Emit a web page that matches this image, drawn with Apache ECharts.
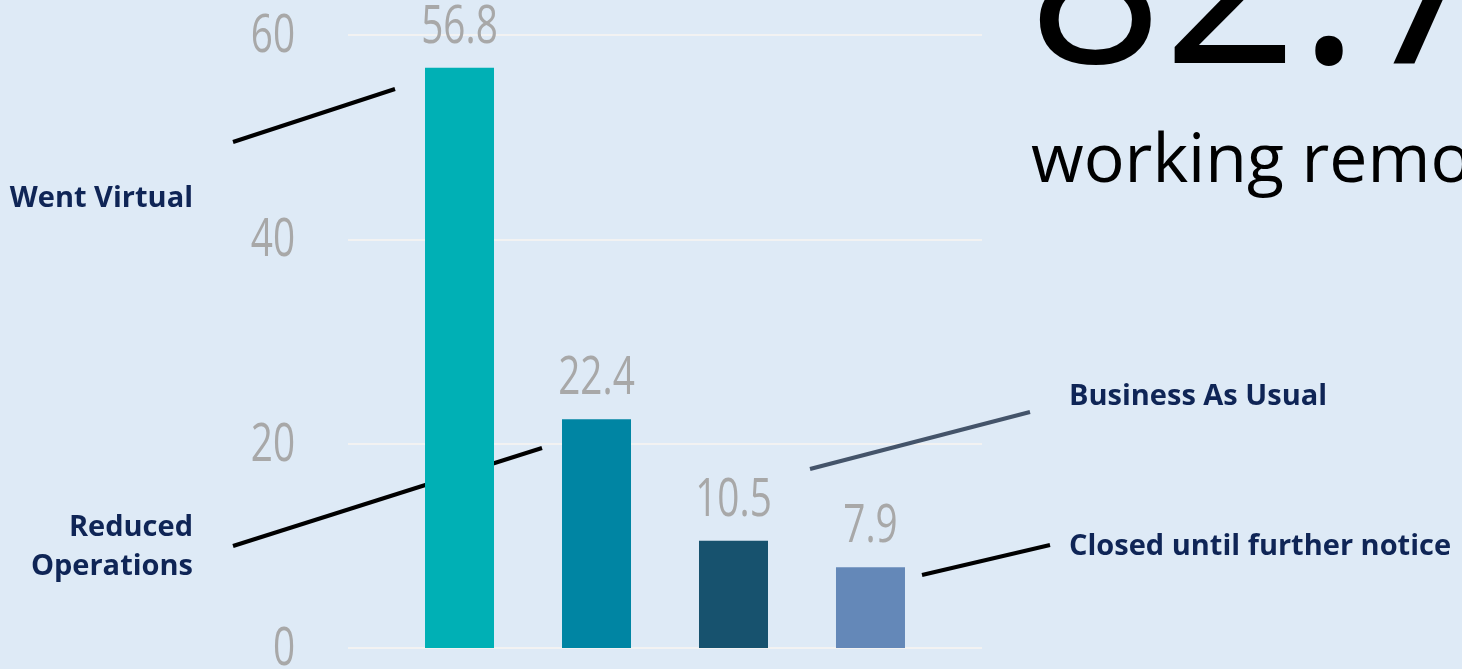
<!DOCTYPE html>
<html>
<head>
<meta charset="utf-8">
<script src="https://cdn.jsdelivr.net/npm/echarts@6/dist/echarts.min.js"></script>
<style>
html,body{margin:0;padding:0;background:#deeaf6;}
#c{width:1462px;height:669px;}
</style>
</head>
<body>
<div id="c"></div>
<script>
const categories = ['Went Virtual', 'Reduced Operations', 'Business As Usual', 'Closed until further notice'];
const values = [56.8, 22.4, 10.5, 7.9];
const barColors = ['#00b0b5', '#0085a3', '#17526e', '#6488b8'];
const yTicks = [0, 20, 40, 60];
const headline = '82.7';
const subline = 'working remotely';

const numFont = '"Open Sans", "Noto Sans", sans-serif';
const labFont = '"Open Sans", "Noto Sans", sans-serif';
const navy = '#0f2556';
const gray = '#a8a8a8';

const chart = echarts.init(document.getElementById('c'), null, {renderer: 'canvas'});
const baseOption = {
  backgroundColor: '#deeaf6',
  animation: false,
  grid: {left: 348, right: 480, top: 35, bottom: 21, containLabel: false},
  xAxis: {type: 'value', min: -0.814, max: 3.814, show: false},
  yAxis: {
    type: 'value', min: yTicks[0], max: yTicks[yTicks.length - 1], interval: 20,
    axisLine: {show: false}, axisTick: {show: false},
    axisLabel: {show: false},
    splitLine: {show: true, lineStyle: {color: '#f2f2f2', width: 2}}
  },
  series: [{
    type: 'bar',
    barWidth: 69,
    data: values.map((v, i) => ({value: [i, v], name: categories[i], itemStyle: {color: barColors[i]}})),
    label: {show: false}
  }]
};
chart.setOption(baseOption);

// Condensed numeric text (tick labels and value labels), positioned via the chart's own scales
const numText = [];
yTicks.forEach(t => {
  const p = chart.convertToPixel({gridIndex: 0}, [-0.814, t]);
  numText.push({type: 'text', x: p[0] - 53, y: p[1] + 2, scaleX: 0.73,
    style: {text: String(t), font: '380 53px ' + numFont, fill: gray, align: 'right', verticalAlign: 'middle'}});
});
values.forEach((v, i) => {
  const p = chart.convertToPixel({gridIndex: 0}, [i, v]);
  numText.push({type: 'text', x: p[0], y: p[1] - 40, scaleX: 0.73,
    style: {text: v.toFixed(1), font: '380 53px ' + numFont, fill: gray, align: 'center', verticalAlign: 'middle'}});
});

chart.setOption({
  graphic: numText.concat([
    {type: 'text', x: 1028, y: -4, style: {text: headline, font: '236px ' + labFont, fill: '#000', verticalAlign: 'middle'}},
    {type: 'text', x: 1031, y: 163, style: {text: subline, font: '68px ' + labFont, fill: '#000', verticalAlign: 'middle'}},
    {type: 'text', x: 193, y: 199, style: {text: categories[0], font: 'bold 29px ' + labFont, fill: navy, align: 'right', verticalAlign: 'middle'}},
    {type: 'text', x: 193, y: 547, style: {text: 'Reduced\nOperations', font: 'bold 29px ' + labFont, fill: navy, align: 'right', verticalAlign: 'middle', lineHeight: 38.5}},
    {type: 'text', x: 1069, y: 397, style: {text: categories[2], font: 'bold 29px ' + labFont, fill: navy, align: 'left', verticalAlign: 'middle'}},
    {type: 'text', x: 1069, y: 547, style: {text: categories[3], font: 'bold 29px ' + labFont, fill: navy, align: 'left', verticalAlign: 'middle'}},
    {type: 'line', shape: {x1: 233, y1: 142, x2: 395, y2: 89}, style: {stroke: '#000', lineWidth: 4}},
    {type: 'line', shape: {x1: 233, y1: 546, x2: 542, y2: 448}, style: {stroke: '#000', lineWidth: 4}},
    {type: 'line', shape: {x1: 810, y1: 469, x2: 1030, y2: 412}, style: {stroke: '#44546a', lineWidth: 4}},
    {type: 'line', shape: {x1: 922, y1: 575, x2: 1050, y2: 545}, style: {stroke: '#000', lineWidth: 4}}
  ])
});
</script>
</body>
</html>
